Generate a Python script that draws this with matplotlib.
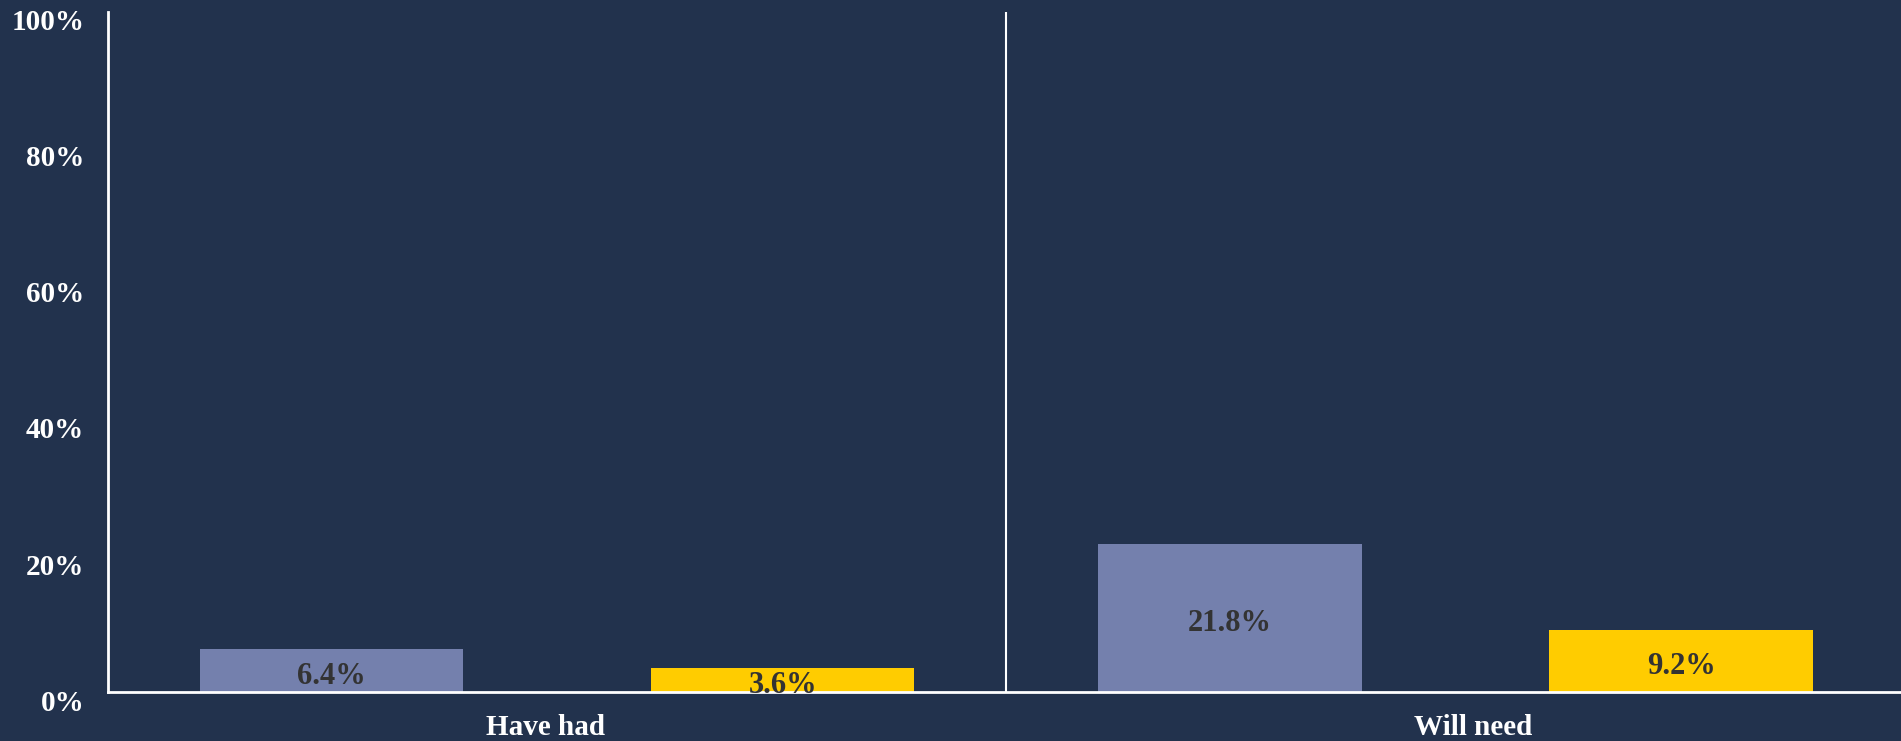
import matplotlib.pyplot as plt
import matplotlib.transforms as mtransforms
import numpy as np

# data
categories = ['Have had', 'Will need']
series_a = [6.4, 21.8]   # purple bars
series_b = [3.6, 9.2]    # yellow bars
yticks = [0, 20, 40, 60, 80, 100]

bg = '#22324D'
purple = '#7480AD'
yellow = '#FFCC00'
label_color = '#333333'

plt.rcParams['font.family'] = ['Liberation Serif', 'DejaVu Serif']
plt.rcParams['font.weight'] = 'bold'

fig = plt.figure(figsize=(19.01, 7.41), dpi=100, facecolor=bg)
ax = fig.add_axes([0.0568, 0.066, 0.9452, 0.918])
ax.set_facecolor(bg)

x = np.arange(len(categories))
w = 0.293
off = 0.251
bars_a = ax.bar(x - off, series_a, w, color=purple)
bars_b = ax.bar(x + off, series_b, w, color=yellow)

# value labels in the middle of each bar, nudged down a little
down = mtransforms.ScaledTranslation(0, -6 / 100, fig.dpi_scale_trans)
for bars, vals in [(bars_a, series_a), (bars_b, series_b)]:
    for b, v in zip(bars, vals):
        ax.text(b.get_x() + b.get_width() / 2, v / 2, f'{v:.1f}%',
                ha='center', va='center', fontsize=22, fontweight='bold',
                color=label_color, transform=ax.transData + down)

# separator between the two groups
ax.axvline(0.5, color='white', lw=1.5)

ax.set_xlim(-0.5, 1.5)
ax.set_ylim(0, 100)
ax.set_yticks(yticks)
ax.set_yticklabels([f'{t}%' for t in yticks])
ax.set_xticks(x)
ax.set_xticklabels(categories)
ax.tick_params(axis='y', length=0, pad=17, labelsize=21, labelcolor='white')
ax.tick_params(axis='x', length=0, pad=16, labelsize=21, labelcolor='white')

# small shifts to match the original placement
ydown = mtransforms.ScaledTranslation(0, -8 / 100, fig.dpi_scale_trans)
for lab in ax.get_yticklabels():
    lab.set_transform(lab.get_transform() + ydown)
xshift = [-12, 18]
for lab, dx in zip(ax.get_xticklabels(), xshift):
    lab.set_transform(lab.get_transform() +
                      mtransforms.ScaledTranslation(dx / 100, 0, fig.dpi_scale_trans))

for s in ['top', 'right']:
    ax.spines[s].set_visible(False)
for s in ['left', 'bottom']:
    ax.spines[s].set_color('white')
    ax.spines[s].set_linewidth(2)

plt.savefig('out.png', dpi=100, facecolor=bg)
